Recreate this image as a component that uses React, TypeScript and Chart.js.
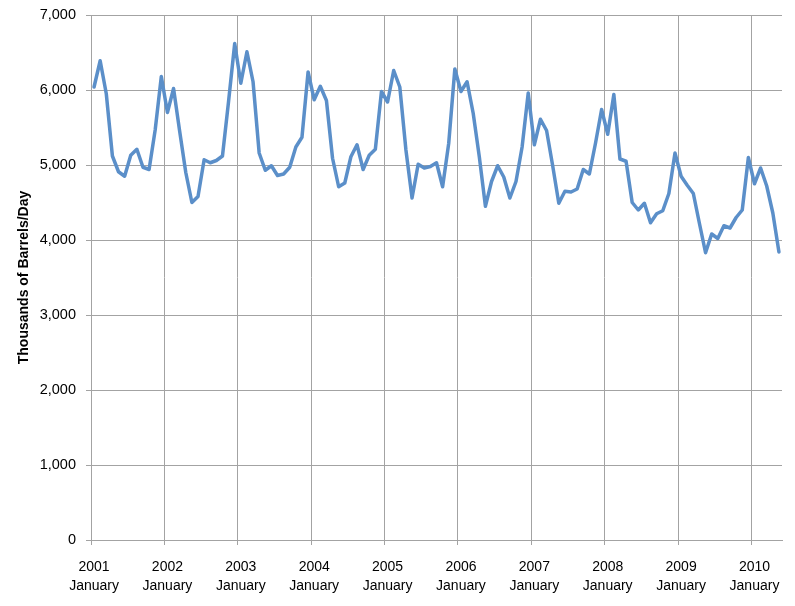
import React, { useEffect, useRef } from "react";
import { Chart, registerables } from "chart.js";

Chart.register(...registerables);

const years: string[] = ["2001", "2002", "2003", "2004", "2005", "2006", "2007", "2008", "2009", "2010"];
const monthNames: string[] = [
  "January", "February", "March", "April", "May", "June",
  "July", "August", "September", "October", "November", "December",
];
const lastYearMonths = 5; // data runs through May 2010

// Thousands of barrels per day, monthly, Jan 2001 – May 2010
const production: number[] = [
  // 2001
  6040, 6390, 5950, 5120, 4910, 4850, 5130, 5210, 4970, 4940, 5470, 6180,
  // 2002
  5700, 6020, 5450, 4900, 4500, 4580, 5070, 5030, 5060, 5120, 5850, 6620,
  // 2003
  6090, 6510, 6110, 5160, 4930, 4990, 4860, 4880, 4970, 5240, 5370, 6240,
  // 2004
  5870, 6050, 5860, 5090, 4710, 4760, 5110, 5270, 4940, 5130, 5210, 5980,
  // 2005
  5840, 6260, 6040, 5200, 4560, 5010, 4960, 4980, 5030, 4710, 5290, 6280,
  // 2006
  5980, 6110, 5690, 5110, 4450, 4780, 4990, 4840, 4560, 4780, 5240, 5960,
  // 2007
  5270, 5610, 5460, 4990, 4490, 4650, 4640, 4680, 4940, 4880, 5290, 5740,
  // 2008
  5410, 5940, 5080, 5050, 4500, 4400, 4490, 4230, 4350, 4390, 4620, 5160,
  // 2009
  4850, 4730, 4620, 4220, 3830, 4080, 4020, 4190, 4160, 4300, 4400, 5100,
  // 2010
  4750, 4960, 4720, 4360, 3840,
];

const yTicks: number[] = [0, 1000, 2000, 3000, 4000, 5000, 6000, 7000];
const yTitle = "Thousands of Barrels/Day";

const categories: { year: string; month: string }[] = [];
years.forEach((y, yi) => {
  const n = yi === years.length - 1 ? lastYearMonths : 12;
  for (let m = 0; m < n; m++) categories.push({ year: y, month: monthNames[m] });
});

const GRID = "#a3a3a3";
const FONT = "'Liberation Sans', Arial, sans-serif";

export default function App() {
  const ref = useRef<HTMLCanvasElement | null>(null);

  useEffect(() => {
    if (!ref.current) return;
    const chart = new Chart(ref.current, {
      type: "line",
      data: {
        labels: categories.map((c) => c.year + " " + c.month),
        datasets: [
          {
            data: production,
            borderColor: "#5b8fc9",
            borderWidth: 3.5,
            pointRadius: 0,
            tension: 0,
            fill: false,
            borderJoinStyle: "round",
            borderCapStyle: "round",
          },
        ],
      },
      options: {
        responsive: false,
        animation: false,
        devicePixelRatio: 1,
        layout: { padding: { top: 15, right: 13, bottom: 0, left: 0 } },
        plugins: { legend: { display: false }, tooltip: { enabled: false } },
        scales: {
          x: {
            type: "category",
            offset: true,
            grid: {
              offset: true,
              drawTicks: true,
              tickLength: 5,
              lineWidth: 1,
              color: (ctx: any) => (ctx.index % 12 === 0 ? GRID : "rgba(0,0,0,0)"),
            },
            border: { display: true, color: GRID, width: 1 },
            ticks: {
              autoSkip: false,
              maxRotation: 0,
              minRotation: 0,
              padding: 13,
              color: "#000",
              font: { family: FONT, size: 14, lineHeight: 1.35 },
              callback: (_v: any, i: number) => {
                const c = categories[i];
                return c && c.month === "January" ? [c.year, c.month] : "";
              },
            },
            afterFit: (scale: any) => {
              scale.height = 66;
              scale.paddingLeft = 0;
              scale.paddingRight = 0;
            },
          },
          y: {
            min: 0,
            max: 7000,
            afterBuildTicks: (scale: any) => {
              scale.ticks = yTicks.map((v) => ({ value: v }));
            },
            grid: { color: GRID, lineWidth: 1, tickLength: 5, drawTicks: true },
            border: { display: true, color: GRID, width: 1 },
            ticks: {
              padding: 10,
              color: "#000",
              font: { family: FONT, size: 14.5 },
              callback: (v: any) => Number(v).toLocaleString("en-US"),
            },
            title: {
              display: true,
              text: yTitle,
              color: "#000",
              font: { family: FONT, size: 14, weight: "bold" },
              padding: { top: 16, bottom: 0 },
            },
            afterFit: (scale: any) => {
              scale.width = 91;
              scale.paddingTop = 0;
              scale.paddingBottom = 0;
            },
          },
        },
      },
    });
    return () => chart.destroy();
  }, []);

  return (
    <div style={{ position: "absolute", left: 0, top: 0, width: 795, height: 606, background: "#fff" }}>
      <canvas ref={ref} width={795} height={606} style={{ display: "block" }} />
    </div>
  );
}
